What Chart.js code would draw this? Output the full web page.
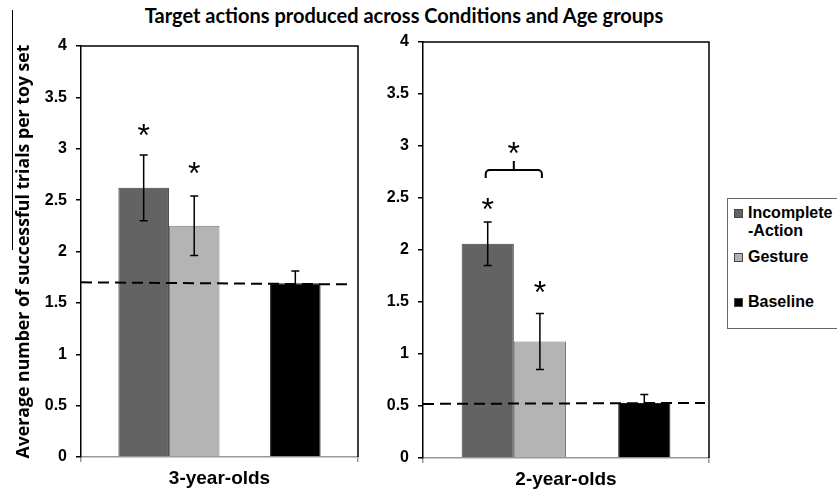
<!DOCTYPE html>
<html lang="en">
<head>
<meta charset="UTF-8" />
<title>Target actions produced across Conditions and Age groups</title>
<script src="https://cdn.jsdelivr.net/npm/chart.js"></script>
<style>
  body { margin: 0; background: #fff; }
  #wrap { position: relative; width: 837px; height: 495px; overflow: hidden; }
  #title {
    position: absolute; left: 0; top: 3px; width: 808px; text-align: center;
    font-family: Lato, sans-serif; font-weight: bold; font-size: 20px; color: #000;
  }
  #chartA { position: absolute; left: 0; top: 0; }
  #chartB { position: absolute; left: 370px; top: 0; }
  /* thin rule next to the axis title, as in the original figure */
  #edge { position: absolute; left: 12px; top: 10px; width: 1px; height: 240px; background: #000; }
  #legend {
    position: absolute; left: 727px; top: 198px; width: 130px; height: 131px;
    border: 1px solid #666; box-sizing: border-box;
    font-family: 'Liberation Sans', Arial, sans-serif; font-weight: bold; font-size: 16px; color: #000;
  }
  #legend .item { position: absolute; left: 20px; line-height: 18px; }
  #legend .item:nth-child(1) { top: 5px; }
  #legend .item:nth-child(2) { top: 49px; }
  #legend .item:nth-child(3) { top: 94px; }
  #legend .box { position: absolute; left: -14px; top: 5px; width: 7px; height: 7px; border: 1px solid #444; }
</style>
</head>
<body>
<div id="wrap">
  <div id="title">Target actions produced across Conditions and Age groups</div>
  <canvas id="chartA" width="380" height="495"></canvas>
  <canvas id="chartB" width="350" height="495"></canvas>
  <div id="edge"></div>
  <div id="legend"></div>
</div>

<script>
  // values
  const ageGroups = ['3-year-olds', '2-year-olds'];
  const seriesNames = ['Incomplete-Action', 'Gesture', 'Baseline'];
  const incompleteAction = [2.62, 2.06];
  const gesture = [2.25, 1.12];
  const baseline = [1.69, 0.53];
  const incompleteErr = [0.32, 0.21];
  const gestureErr = [0.29, 0.27];
  const baselineErr = [0.12, 0.08];
  // dashed baseline reference (start / end value)
  const refLineStart = [1.70, 0.52];
  const refLineEnd = [1.68, 0.53];
  // significance marks
  const starIncomplete = [3.2, 2.46];
  const starGesture = [2.83, 1.66];
  const bracketLevel = [null, 2.77];
  const bracketStar = [null, 3.0];

  const seriesColors = ['#636363', '#b4b4b4', '#000000'];
  const seriesBorders = ['#3c3c3c', '#7a7a7a', '#222222'];

  // legend
  const legendEl = document.getElementById('legend');
  seriesNames.forEach((name, k) => {
    const item = document.createElement('div');
    item.className = 'item';
    item.innerHTML = '<span class="box" style="background:' + seriesColors[k] + '"></span>' +
      name.replace('-', '<br>-');
    legendEl.appendChild(item);
  });

  const extras = {
    id: 'extras',
    afterDatasetsDraw(chart, args, opts) {
      const i = opts.group;
      const ctx = chart.ctx;
      const y = chart.scales.y;
      const area = chart.chartArea;
      ctx.save();

      // frame top + right
      ctx.strokeStyle = '#000';
      ctx.lineWidth = 1.5;
      ctx.beginPath();
      ctx.moveTo(area.left, area.top);
      ctx.lineTo(area.right, area.top);
      ctx.lineTo(area.right, area.bottom);
      ctx.stroke();

      // dashed reference line
      ctx.setLineDash([11, 6]);
      ctx.lineWidth = 2;
      ctx.beginPath();
      ctx.moveTo(area.left, y.getPixelForValue(refLineStart[i]));
      ctx.lineTo(area.right - opts.refInset, y.getPixelForValue(refLineEnd[i]));
      ctx.stroke();
      ctx.setLineDash([]);

      // error bars
      ctx.lineWidth = 1.5;
      chart.data.datasets.forEach((ds, d) => {
        if (!ds.err) return;
        const bar = chart.getDatasetMeta(d).data[0];
        const v = ds.data[0], e = ds.err[0];
        const top = y.getPixelForValue(v + e), bot = y.getPixelForValue(v - e);
        ctx.beginPath();
        ctx.moveTo(bar.x, top); ctx.lineTo(bar.x, bot);
        ctx.moveTo(bar.x - 4, top); ctx.lineTo(bar.x + 4, top);
        ctx.moveTo(bar.x - 4, bot); ctx.lineTo(bar.x + 4, bot);
        ctx.stroke();
      });

      // stars
      const xA = chart.getDatasetMeta(0).data[0].x;
      const xG = chart.getDatasetMeta(1).data[0].x;
      ctx.fillStyle = '#000';
      ctx.font = '32px "Liberation Sans", Arial, sans-serif';
      ctx.textAlign = 'center';
      ctx.textBaseline = 'alphabetic';
      const star = (x, v) => ctx.fillText('*', x, y.getPixelForValue(v) + 18);
      star(xA, starIncomplete[i]);
      star(xG, starGesture[i]);

      // bracket between incomplete and gesture
      if (bracketLevel[i] != null) {
        const by = y.getPixelForValue(bracketLevel[i]);
        const r = 4;
        ctx.lineWidth = 2;
        ctx.beginPath();
        ctx.moveTo(xA - 2, by + 8);
        ctx.arcTo(xA - 2, by, xA + r, by, r);
        ctx.lineTo(xG + 2 - r, by);
        ctx.arcTo(xG + 2, by, xG + 2, by + 8, r);
        ctx.lineTo(xG + 2, by + 8);
        const mid = (xA + xG) / 2;
        ctx.moveTo(mid, by);
        ctx.lineTo(mid, by - 9);
        ctx.stroke();
        star(mid, bracketStar[i]);
      }
      ctx.restore();
    }
  };

  function makeChart(id, i, cfg) {
    const datasets = [
      { label: seriesNames[0], data: [incompleteAction[i]], err: [incompleteErr[i]] },
      { label: seriesNames[1], data: [gesture[i]], err: [gestureErr[i]] },
      { label: '', data: [null] }, // empty slot between groups
      { label: seriesNames[2], data: [baseline[i]], err: [baselineErr[i]] }
    ];
    const colorIdx = [0, 1, null, 2];
    datasets.forEach((ds, d) => {
      if (colorIdx[d] == null) return;
      ds.backgroundColor = seriesColors[colorIdx[d]];
      ds.borderColor = seriesBorders[colorIdx[d]];
      ds.borderWidth = 1;
    });

    return new Chart(document.getElementById(id), {
      type: 'bar',
      data: { labels: [ageGroups[i]], datasets: datasets },
      plugins: [extras],
      options: {
        responsive: false,
        animation: false,
        categoryPercentage: 0.73,
        barPercentage: 1,
        layout: { padding: { top: cfg.top, right: cfg.right, left: 0, bottom: 0 } },
        plugins: {
          legend: { display: false },
          tooltip: { enabled: false },
          extras: { group: i, refInset: cfg.refInset }
        },
        scales: {
          x: {
            afterFit: (s) => { s.height = cfg.xHeight; },
            grid: { drawOnChartArea: false, tickLength: 5, color: '#999', lineWidth: 1.5 },
            border: { color: '#999', width: 1.5 },
            ticks: {
              color: '#000', padding: 5,
              font: { family: "'Liberation Sans', Arial, sans-serif", weight: 'bold', size: 19 }
            }
          },
          y: {
            min: 0, max: 4,
            afterFit: (s) => { s.width = cfg.axisW; },
            grid: { drawOnChartArea: false, tickLength: 5, color: '#000', lineWidth: 1.5 },
            border: { color: '#000', width: 1.5 },
            ticks: {
              stepSize: 0.5, color: '#000', padding: 9,
              callback: (v) => String(v),
              font: { family: "'Liberation Sans', Arial, sans-serif", weight: 'bold', size: 16 }
            },
            title: {
              display: cfg.yTitle,
              text: 'Average number of successful trials per toy set',
              color: '#000',
              padding: { top: 13, bottom: 0 },
              font: { family: "'Open Sans', sans-serif", weight: 'bold', size: 17.7 }
            }
          }
        }
      }
    });
  }

  makeChart('chartA', 0, { top: 46, right: 22, axisW: 81, xHeight: 38, yTitle: true, refInset: 10 });
  makeChart('chartB', 1, { top: 42, right: 11, axisW: 53, xHeight: 37, yTitle: false, refInset: 4 });
</script>
</body>
</html>
